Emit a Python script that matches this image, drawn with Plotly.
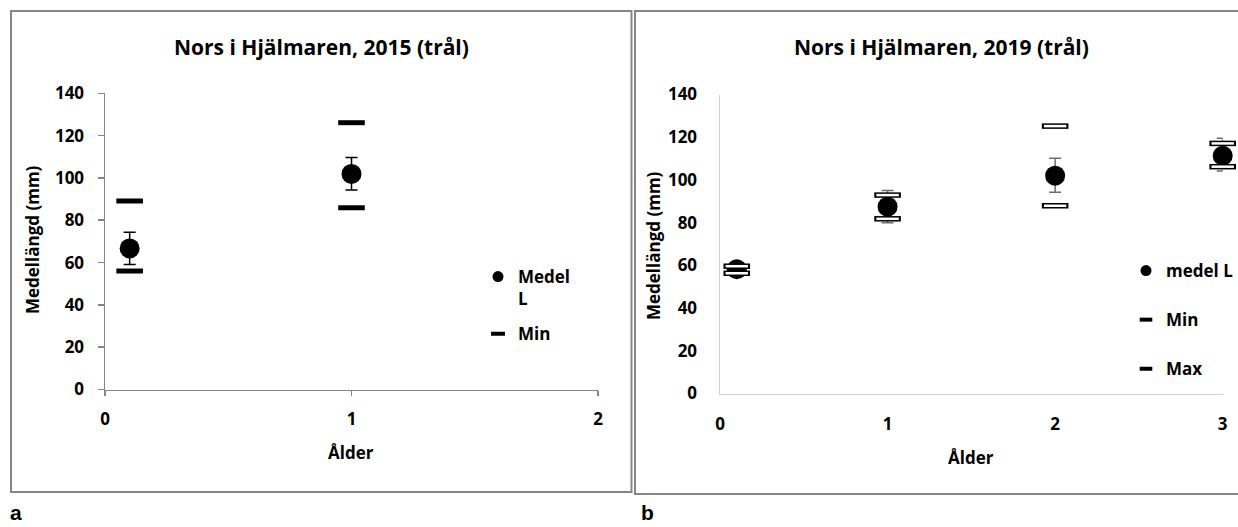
import plotly.graph_objects as go

W, H = 1238, 527

# ---------------- data ----------------
# Panel a: 2015
age_2015 = [0.1, 1]
mean_2015 = [66.7, 101.9]
err_hi_2015 = [74.3, 109.7]
err_lo_2015 = [59.1, 94.3]
min_2015 = [56.0, 85.9]
max_2015 = [89.1, 126.1]

# Panel b: 2019
age_2019 = [0.1, 1, 2, 3]
mean_2019 = [58.2, 87.5, 102.0, 111.3]
err_hi_2019 = [58.2, 95.0, 110.1, 119.5]
err_lo_2019 = [58.2, 80.0, 94.2, 104.2]
min_2019 = [56.3, 81.8, 87.9, 106.2]
max_2019 = [59.6, 92.9, 125.2, 117.1]

title_2015 = "Nors i Hjälmaren, 2015 (trål)"
title_2019 = "Nors i Hjälmaren, 2019 (trål)"
y_title = "Medellängd (mm)"
x_title = "Ålder"
y_ticks = [0, 20, 40, 60, 80, 100, 120, 140]
x_ticks_2015 = [0, 1, 2]
x_ticks_2019 = [0, 1, 2, 3]

FONT = "Open Sans"


def px(x):
    return x / W


def py(y):
    return 1 - y / H


fig = go.Figure()

# ---------------- panel a ----------------
fig.add_trace(go.Scatter(
    x=age_2015, y=mean_2015, mode="markers", xaxis="x", yaxis="y",
    marker=dict(symbol="circle", size=20, color="black"),
    error_y=dict(type="data", symmetric=False,
                 array=[h - m for h, m in zip(err_hi_2015, mean_2015)],
                 arrayminus=[m - l for m, l in zip(mean_2015, err_lo_2015)],
                 color="black", thickness=1.5, width=6),
    showlegend=False, cliponaxis=False))
for vals in (min_2015, max_2015):
    fig.add_trace(go.Scatter(
        x=age_2015, y=vals, mode="markers", xaxis="x", yaxis="y",
        marker=dict(symbol="line-ew", size=19, color="black",
                    line=dict(color="black", width=5)),
        showlegend=False, cliponaxis=False))

# legend entries (panel a)
fig.add_trace(go.Scatter(
    x=[None], y=[None], mode="markers", xaxis="x", yaxis="y", name="Medel<br>L",
    marker=dict(symbol="circle", size=11, color="black"),
    legend="legend", legendgroup="a1"))
fig.add_trace(go.Scatter(
    x=[None], y=[None], mode="markers", xaxis="x", yaxis="y", name="Min",
    marker=dict(symbol="line-ew", size=10, color="black",
                line=dict(color="black", width=4)),
    legend="legend", legendgroup="a2"))

# ---------------- panel b ----------------
fig.add_trace(go.Scatter(
    x=age_2019, y=mean_2019, mode="markers", xaxis="x2", yaxis="y2",
    marker=dict(symbol="circle", size=20, color="black"),
    error_y=dict(type="data", symmetric=False,
                 array=[h - m for h, m in zip(err_hi_2019, mean_2019)],
                 arrayminus=[m - l for m, l in zip(mean_2019, err_lo_2019)],
                 color="#6e6e6e", thickness=1.5, width=6),
    showlegend=False, cliponaxis=False))
for vals in (min_2019, max_2019):
    fig.add_trace(go.Scatter(
        x=age_2019, y=vals, mode="markers", xaxis="x2", yaxis="y2",
        marker=dict(symbol="line-ew", size=19, color="black",
                    line=dict(color="black", width=5.5)),
        showlegend=False, cliponaxis=False))
    fig.add_trace(go.Scatter(
        x=age_2019, y=vals, mode="markers", xaxis="x2", yaxis="y2",
        marker=dict(symbol="line-ew", size=16, color="white",
                    line=dict(color="white", width=2.5)),
        showlegend=False, cliponaxis=False, hoverinfo="skip"))

# legend entries (panel b)
fig.add_trace(go.Scatter(
    x=[None], y=[None], mode="markers", xaxis="x2", yaxis="y2", name="medel L",
    marker=dict(symbol="circle", size=11, color="black"),
    legend="legend2", legendgroup="b1"))
fig.add_trace(go.Scatter(
    x=[None], y=[None], mode="markers", xaxis="x2", yaxis="y2", name="Min",
    marker=dict(symbol="line-ew", size=9, color="black",
                line=dict(color="black", width=4)),
    legend="legend2", legendgroup="b2"))
fig.add_trace(go.Scatter(
    x=[None], y=[None], mode="markers", xaxis="x2", yaxis="y2", name="Max",
    marker=dict(symbol="line-ew", size=9, color="black",
                line=dict(color="black", width=4)),
    legend="legend2", legendgroup="b3"))

tickfont = dict(family=FONT, size=17, color="black", weight="bold")
legfont = dict(family=FONT, size=17, color="black", weight="bold")

common = dict(showgrid=False, zeroline=False, tickfont=tickfont, automargin=False,
              fixedrange=True)

fig.update_layout(
    template="none",
    width=W, height=H, autosize=False,
    margin=dict(l=0, r=0, t=0, b=0, pad=0, autoexpand=False),
    paper_bgcolor="white", plot_bgcolor="white",
    font=dict(family=FONT, color="black"),
    hovermode=False,
    xaxis=dict(domain=[px(105), px(598)], range=[0, 2], tickvals=x_ticks_2015,
               showline=True, linecolor="#868686", linewidth=1.5,
               ticks="outside", ticklen=5, tickcolor="#868686", tickwidth=1.5,
               ticklabelstandoff=9, anchor="y", **common),
    yaxis=dict(domain=[py(389.5), py(93.3)], range=[0, 140], tickvals=y_ticks,
               showline=True, linecolor="#868686", linewidth=1.5,
               ticks="outside", ticklen=6, tickcolor="#868686", tickwidth=1.5,
               ticklabelstandoff=10, anchor="x", **common),
    xaxis2=dict(domain=[px(720), px(1222.7)], range=[0, 3], tickvals=x_ticks_2019,
                showline=True, linecolor="#d0d0d0", linewidth=1.5, ticks="",
                ticklabelstandoff=15, anchor="y2", **common),
    yaxis2=dict(domain=[py(393.5), py(94.5)], range=[0, 140], tickvals=y_ticks,
                showline=True, linecolor="#d0d0d0", linewidth=1.5, ticks="",
                ticklabelstandoff=18, anchor="x2", **common),
    legend=dict(x=px(478), y=py(259), xanchor="left", yanchor="top",
                bgcolor="rgba(0,0,0,0)", traceorder="grouped", tracegroupgap=10,
                valign="top", itemwidth=30, font=legfont, borderwidth=0),
    legend2=dict(x=px(1126), y=py(253), xanchor="left", yanchor="top",
                 bgcolor="rgba(0,0,0,0)", traceorder="grouped", tracegroupgap=24,
                 itemwidth=30, font=legfont, borderwidth=0),
)

# panel borders
fig.add_shape(type="rect", xref="paper", yref="paper",
              x0=px(11), x1=px(631.5), y0=py(492), y1=py(11),
              line=dict(color="#868686", width=2), layer="below")
fig.add_shape(type="rect", xref="paper", yref="paper",
              x0=px(635), x1=px(1260), y0=py(494), y1=py(11),
              line=dict(color="#868686", width=2), layer="below")

ann_font_title = dict(family=FONT, size=21, color="black", weight="bold")
ann_font_ax = dict(family=FONT, size=17, color="black", weight="bold")
lbl_font = dict(family="Liberation Sans", size=21, color="black", weight="bold")

annotations = [
    dict(text=title_2015, x=px(321), y=py(47), font=ann_font_title),
    dict(text=title_2019, x=px(941), y=py(47), font=ann_font_title),
    dict(text=x_title, x=px(351), y=py(452), font=ann_font_ax),
    dict(text=x_title, x=px(971), y=py(457), font=ann_font_ax),
    dict(text=y_title, x=px(33), y=py(240), font=ann_font_ax, textangle=-90),
    dict(text=y_title, x=px(653), y=py(246), font=ann_font_ax, textangle=-90),
    dict(text="a", x=px(16), y=py(512), font=lbl_font),
    dict(text="b", x=px(647), y=py(512), font=lbl_font),
]
for a in annotations:
    a.update(xref="paper", yref="paper", showarrow=False,
             xanchor="center", yanchor="middle")
fig.update_layout(annotations=annotations)

fig.write_html(
    "out.html",
    config={"displayModeBar": False, "staticPlot": True},
    post_script="document.body.style.margin='0';document.body.style.overflow='hidden';",
)
